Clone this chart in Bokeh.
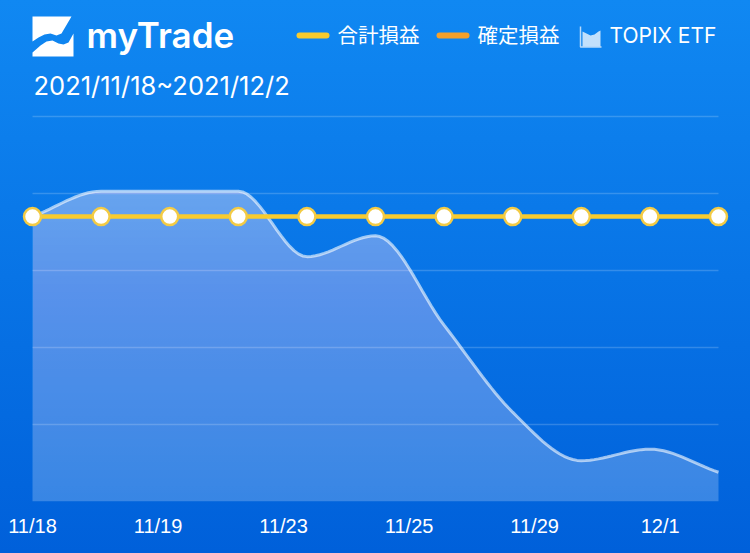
import numpy as np
from bokeh.plotting import figure
from bokeh.models import Range1d, FixedTicker
from bokeh.core.properties import value
from bokeh.embed import file_html
from bokeh.resources import INLINE

# ---- data ----
point_index = [0, 1, 2, 3, 4, 5, 6, 7, 8, 9, 10]
total_pl = [370] * 11
realized_pl = [370] * 11
topix_etf = [370, 403, 403, 403, 318, 345, 229, 116, 53, 68, 38]
tick_positions = [0, 1.83, 3.66, 5.49, 7.32, 9.15]
tick_labels = ["11/18", "11/19", "11/23", "11/25", "11/29", "12/1"]
grid_levels = [100, 200, 300, 400, 500]
legend_names = ["合計損益", "確定損益", "TOPIX ETF"]
date_range = "2021/11/18~2021/12/2"
brand = "myTrade"

PX_PER_X, PX_PER_Y = 68.6, 0.77
def X(px): return (np.asarray(px, float) - 32) / PX_PER_X
def Y(py): return (501 - np.asarray(py, float)) / PX_PER_Y

p = figure(width=750, height=553, output_backend="svg", toolbar_location=None,
           x_range=Range1d(float(X(0)), float(X(750))), y_range=Range1d(0, float(Y(0))),
           min_border=0, min_border_left=0, min_border_right=0, min_border_top=0,
           min_border_bottom=52)
p.styles = {"background": "linear-gradient(180deg,#1088F2 0%,#0060DA 100%)"}
p.background_fill_color = None
p.border_fill_color = None
p.outline_line_color = None
p.yaxis.visible = False
p.xgrid.visible = False
p.ygrid.visible = False

ax = p.xaxis[0]
ax.ticker = FixedTicker(ticks=tick_positions)
ax.major_label_overrides = dict(zip(tick_positions, tick_labels))
ax.axis_line_color = None
ax.major_tick_line_color = None
ax.minor_tick_line_color = None
ax.major_label_text_color = "#ffffff"
ax.major_label_text_font = "Liberation Sans"
ax.major_label_text_font_size = "20px"
ax.major_label_standoff = 7

# grid rules
p.segment(x0=[point_index[0]] * 5, x1=[point_index[-1]] * 5, y0=grid_levels, y1=grid_levels,
          line_color="#ffffff", line_alpha=0.18, line_width=1.5)

# smooth path through the series' points, for drawing only
def smooth(xs, ys, n=16):
    xs, ys = np.asarray(xs, float), np.asarray(ys, float)
    h = np.diff(xs); d = np.diff(ys) / h
    m = np.zeros_like(ys)
    m[0], m[-1] = d[0], d[-1]
    for i in range(1, len(ys) - 1):
        if d[i - 1] * d[i] <= 0:
            m[i] = 0
        else:
            lim = 3 * min(abs(d[i - 1]), abs(d[i]))
            m[i] = np.sign(d[i]) * min(abs(d[i - 1] + d[i]) / 2, lim)
    ox, oy = [], []
    for i in range(len(h)):
        t = np.linspace(0, 1, n, endpoint=i == len(h) - 1)
        ox.append(xs[i] + t * h[i])
        oy.append((2*t**3 - 3*t**2 + 1) * ys[i] + (t**3 - 2*t**2 + t) * h[i] * m[i]
                  + (-2*t**3 + 3*t**2) * ys[i + 1] + (t**3 - t**2) * h[i] * m[i + 1])
    return np.concatenate(ox), np.concatenate(oy)

sx, sy = smooth(point_index, topix_etf)

# area with a vertical gradient, built as stacked translucent layers
ymax = max(topix_etf)
A_BOT, A_TOP = 0.23, 0.47
AREA_COLOR = "#F0FAFF"
def target(v): return A_BOT + (A_TOP - A_BOT) * v / ymax
p.varea(sx, y1=np.zeros_like(sy), y2=sy, fill_color=AREA_COLOR, fill_alpha=A_BOT)
levels = np.linspace(0, ymax, 41)
for a, b in zip(levels[:-1], levels[1:]):
    layer_alpha = 1 - (1 - target(b)) / (1 - target(a))
    p.varea(sx, y1=np.full_like(sy, b), y2=np.maximum(sy, b),
            fill_color=AREA_COLOR, fill_alpha=float(layer_alpha))
p.line(sx, sy, line_color="#ffffff", line_alpha=0.6, line_width=3)

# series lines
p.line(point_index, realized_pl, line_color="#F5A02A", line_width=2)
p.line(point_index, total_pl, line_color="#F8CB2E", line_width=4.5)
p.scatter(point_index, total_pl, size=17, marker="circle", fill_color="#ffffff",
          line_color="#F3CB45", line_width=2.5)

# logo
p.patch(X([32, 71, 61, 56, 50, 44, 38, 32]), Y([16, 16, 33, 35, 33, 34, 37, 41]),
        fill_color="#ffffff", line_color=None)
p.patch(X([32, 73, 73, 68, 63, 58, 52, 46, 40, 32]),
        Y([56, 56, 33, 42, 44, 43, 40, 41, 45, 52]),
        fill_color="#ffffff", line_color=None)

def txt(px, py, s, size, font, color="#ffffff", style="normal"):
    p.text([float(X(px))], [float(Y(py))], text=[s], text_color=color,
           text_font=value(font), text_font_size=size, text_font_style=style,
           text_align="left", text_baseline="middle")

txt(86, 34, brand, "35px", "Inter SemiBold, Inter")
txt(33, 85, date_range, "25.5px", "Inter")

# legend
p.line(X([299, 326]), Y([35, 35]), line_color="#F8CB2E", line_width=6, line_cap="round")
txt(337, 33, legend_names[0], "20.5px", "Noto Sans CJK JP")
p.line(X([439, 466]), Y([35, 35]), line_color="#F5A02A", line_width=6, line_cap="round")
txt(477, 33, legend_names[1], "20.5px", "Noto Sans CJK JP")
p.patch(X([582, 586, 590, 594, 598, 600, 600, 582]), Y([31, 33, 35, 34, 31, 30, 46, 46]),
        fill_color="#ffffff", fill_alpha=0.75, line_color=None)
p.line(X([580, 580, 601]), Y([26, 46.5, 46.5]), line_color="#ffffff", line_alpha=0.7, line_width=1.5)
txt(609, 35, legend_names[2], "21px", "Inter")

open("out.html", "w").write(file_html(p, INLINE))
